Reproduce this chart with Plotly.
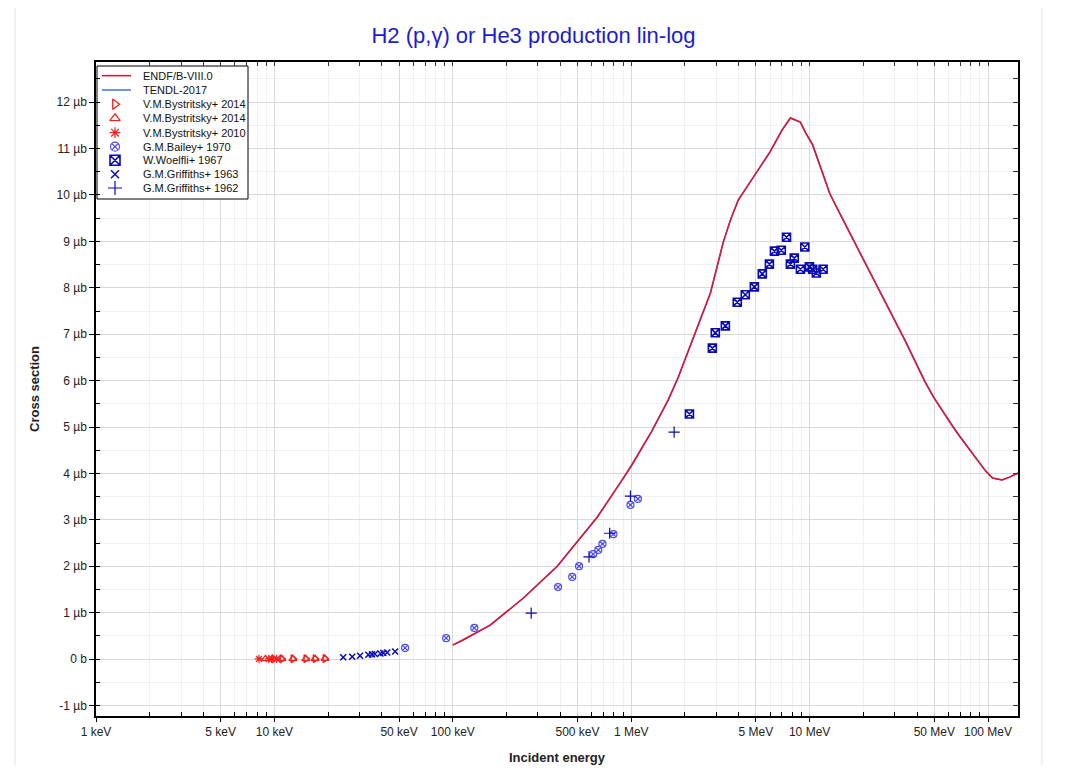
import numpy as np
import plotly.graph_objects as go

# ---------------- data (energy in MeV, cross section in micro-barn) ----------------
endf_e = [0.100, 0.114, 0.162, 0.248, 0.385, 0.499, 0.646, 0.890, 1.00, 1.30, 1.61, 1.83,
          2.20, 2.78, 3.29, 3.60, 3.98, 5.00, 6.00, 7.00, 7.80, 8.87, 9.50, 10.4, 12.2,
          13.0, 14.9, 18.0, 25.0, 34.4, 44.0, 49.4, 63.7, 70.0, 97.0, 100.0, 106.0,
          120.0, 132.0, 148.0]
endf_xs = [0.30, 0.41, 0.73, 1.31, 2.00, 2.52, 3.06, 3.86, 4.16, 4.90, 5.58, 6.06,
           6.86, 7.89, 9.00, 9.46, 9.89, 10.47, 10.93, 11.40, 11.66, 11.57, 11.34, 11.08, 10.32,
           10.02, 9.57, 8.95, 7.88, 6.85, 6.00, 5.65, 5.00, 4.78, 4.05, 4.00, 3.90,
           3.86, 3.92, 4.01]

tendl_e = list(endf_e)
tendl_xs = list(endf_xs)

byst14r_e = [0.0099, 0.0110, 0.0127, 0.0150, 0.0169, 0.0192]
byst14r_xs = [0.002, 0.003, 0.004, 0.005, 0.006, 0.008]

byst14u_e = [0.0089, 0.0110, 0.0127, 0.0150, 0.0169, 0.0192]
byst14u_xs = [0.001, 0.003, 0.004, 0.005, 0.006, 0.008]

byst10_e = [0.0082, 0.0093, 0.0097, 0.0103]
byst10_xs = [0.001, 0.001, 0.002, 0.002]

bailey_e = [0.054, 0.0918, 0.132, 0.389, 0.467, 0.510, 0.612, 0.654, 0.690, 0.795, 0.990, 1.09]
bailey_xs = [0.24, 0.45, 0.67, 1.55, 1.77, 2.00, 2.26, 2.35, 2.48, 2.69, 3.32, 3.45]

woelfli_e = [2.12, 2.85, 2.96, 3.37, 3.93, 4.36, 4.90, 5.43, 5.95, 6.35, 6.94, 7.42, 7.80,
             8.20, 8.88, 9.40, 9.97, 10.4, 10.9, 11.9]
woelfli_xs = [5.28, 6.70, 7.03, 7.18, 7.69, 7.85, 8.02, 8.30, 8.51, 8.79, 8.81, 9.09, 8.51,
              8.64, 8.40, 8.88, 8.45, 8.40, 8.32, 8.40]

griff63_e = [0.0243, 0.0273, 0.0302, 0.0336, 0.0352, 0.0366, 0.0393, 0.0408, 0.0429, 0.0475]
griff63_xs = [0.04, 0.05, 0.07, 0.09, 0.10, 0.11, 0.12, 0.13, 0.14, 0.16]

griff62_e = [0.275, 0.580, 0.757, 0.990, 1.74]
griff62_xs = [0.99, 2.20, 2.71, 3.51, 4.89]

x_tick_vals = [1e3, 5e3, 1e4, 5e4, 1e5, 5e5, 1e6, 5e6, 1e7, 5e7, 1e8]
x_tick_text = ["1 keV", "5 keV", "10 keV", "50 keV", "100 keV", "500 keV", "1 MeV",
               "5 MeV", "10 MeV", "50 MeV", "100 MeV"]
y_tick_vals = list(range(-1, 13))
y_tick_text = ["-1 µb", "0 b"] + [f"{v} µb" for v in range(1, 13)]

legend_labels = ["ENDF/B-VIII.0", "TENDL-2017", "V.M.Bystritsky+ 2014", "V.M.Bystritsky+ 2014",
                 "V.M.Bystritsky+ 2010", "G.M.Bailey+ 1970", "W.Woelfli+ 1967",
                 "G.M.Griffiths+ 1963", "G.M.Griffiths+ 1962"]

# ---------------- styles ----------------
FONT = "Arial, Liberation Sans, sans-serif"
red = "#ff1a1a"
dblue = "#0a0ab4"
lblue = "#4a4aff"
line_styles = [dict(color="#e8102a", width=1.5), dict(color="#3f6fe8", width=1.5)]
marker_styles = [
    dict(symbol="triangle-right-open", size=7, color=red, line=dict(width=1.3)),
    dict(symbol="triangle-up-open", size=7, color=red, line=dict(width=1.3)),
    dict(symbol="asterisk-open", size=7, color=red, line=dict(width=1.2)),
    dict(symbol="circle-x-open", size=7, color=lblue, line=dict(width=1.2)),
    dict(symbol="square-x-open", size=8, color=dblue, line=dict(width=1.6)),
    dict(symbol="x-thin-open", size=6, color=dblue, line=dict(width=1.5)),
    dict(symbol="cross-thin-open", size=8, color=dblue, line=dict(width=1.2)),
]

def ev(lst):
    return [v * 1e6 for v in lst]

fig = go.Figure()

fig.add_trace(go.Scatter(x=ev(tendl_e), y=tendl_xs, mode="lines", name=legend_labels[1],
                         line=line_styles[1], showlegend=False))
fig.add_trace(go.Scatter(x=ev(endf_e), y=endf_xs, mode="lines", name=legend_labels[0],
                         line=line_styles[0], showlegend=False))

series = [(byst14r_e, byst14r_xs), (byst14u_e, byst14u_xs), (byst10_e, byst10_xs),
          (bailey_e, bailey_xs), (woelfli_e, woelfli_xs), (griff63_e, griff63_xs),
          (griff62_e, griff62_xs)]
for (e, xs), ms, lab in zip(series, marker_styles, legend_labels[2:]):
    fig.add_trace(go.Scatter(x=ev(e), y=xs, mode="markers", name=lab, marker=ms,
                             showlegend=False))

# dummy trace for mirrored (top/right) tick axes
fig.add_trace(go.Scatter(x=[None], y=[None], xaxis="x2", yaxis="y2", showlegend=False,
                         hoverinfo="skip"))

# ---------------- hand-drawn legend (helper pixel axes x3/y3) ----------------
PX0, PX1, PY0, PY1 = 96, 1018, 716, 62   # plot-area pixel box used by helper axes
leg_rows = [75.7, 90, 104.3, 118.3, 132.7, 146.7, 160.3, 174.3, 188]
key_x = 115
bx0, bx1, by0, by1 = 97, 248, 66, 199
fig.add_trace(go.Scatter(x=[bx0, bx1, bx1, bx0, bx0], y=[by0, by0, by1, by1, by0],
                         mode="lines", fill="toself", fillcolor="white",
                         line=dict(color="black", width=1), xaxis="x3", yaxis="y3",
                         showlegend=False, hoverinfo="skip"))
for i, ls in enumerate(line_styles):
    fig.add_trace(go.Scatter(x=[102, 131], y=[leg_rows[i]] * 2, mode="lines", line=ls,
                             xaxis="x3", yaxis="y3", showlegend=False, hoverinfo="skip"))
for i, ms in enumerate(marker_styles):
    m = dict(ms)
    m["size"] = ms["size"] + 2
    fig.add_trace(go.Scatter(x=[key_x], y=[leg_rows[i + 2]], mode="markers", marker=m,
                             xaxis="x3", yaxis="y3", showlegend=False, hoverinfo="skip"))
annotations = []
for lab, yy in zip(legend_labels, leg_rows):
    annotations.append(dict(text=lab, x=141, y=yy, xref="x3", yref="y3", xanchor="left",
                            yanchor="middle", showarrow=False,
                            font=dict(size=11, color="#111111", family=FONT)))

shapes = [
    dict(type="rect", xref="paper", yref="paper", x0=-0.0879, x1=1.026,
         y0=-0.2, y1=1.0887, line=dict(color="#ececec", width=1.5), layer="below"),
]

minor_x = [m * 10 ** d for d in range(3, 9) for m in (2, 3, 4, 6, 7, 8, 9)]
all_x = sorted(minor_x + [10 ** d for d in range(3, 9)] + [5 * 10 ** d for d in range(3, 9)])
xr = [3, 8.168]
yr = [-1.228, 12.866]

fig.update_layout(
    width=1051, height=757,
    margin=dict(l=88, r=41, t=54, b=49, autoexpand=False),
    paper_bgcolor="white", plot_bgcolor="white",
    font=dict(family=FONT, size=12, color="#222222"),
    title=dict(text="H2 (p,γ) or He3 production lin-log", x=0.5, xref="container",
               y=1 - 27 / 757, yanchor="middle", font=dict(size=22, color="#1c1cd4", family=FONT)),
    showlegend=False,
    xaxis=dict(type="log", range=xr, tickvals=x_tick_vals, ticktext=x_tick_text,
               ticks="outside", ticklen=4, tickcolor="black", showline=True, linecolor="black",
               linewidth=1.5, mirror=True, showgrid=True, gridcolor="#d9d9d9", gridwidth=1,
               zeroline=False, tickfont=dict(size=12), automargin=False,
               title=dict(text="<b>Incident energy</b>", font=dict(size=13), standoff=18),
               minor=dict(tickmode="array", tickvals=minor_x, ticks="inside", ticklen=4,
                          tickcolor="black", showgrid=True, gridcolor="#f1f1f1", gridwidth=1)),
    yaxis=dict(range=yr, tickvals=y_tick_vals, ticktext=y_tick_text,
               ticks="outside", ticklen=5, tickcolor="black", showline=True, linecolor="black",
               linewidth=1.5, mirror=True, showgrid=True, gridcolor="#d9d9d9", gridwidth=1,
               zeroline=False, tickfont=dict(size=12), automargin=False,
               title=dict(text="<b>Cross section</b>", font=dict(size=13), standoff=14),
               minor=dict(dtick=0.5, tick0=0, ticks="inside", ticklen=4, tickcolor="black",
                          showgrid=True, gridcolor="#f1f1f1", gridwidth=1)),
    xaxis2=dict(type="log", range=xr, overlaying="x", side="top", anchor="y2",
                tickvals=all_x, ticks="inside", ticklen=4, tickcolor="#333333",
                showticklabels=False, showgrid=False, showline=False, zeroline=False,
                automargin=False),
    yaxis2=dict(range=yr, overlaying="y", side="right", anchor="x2", dtick=0.5, tick0=0,
                ticks="inside", ticklen=5, tickcolor="#333333", showticklabels=False,
                showgrid=False, showline=False, zeroline=False, automargin=False),
    xaxis3=dict(range=[PX0, PX1], overlaying="x", anchor="y3", visible=False, fixedrange=True,
                automargin=False),
    yaxis3=dict(range=[PY0, PY1], overlaying="y", anchor="x3", visible=False, fixedrange=True,
                automargin=False),
    shapes=shapes,
    annotations=annotations,
)

fig.write_html("out.html")
